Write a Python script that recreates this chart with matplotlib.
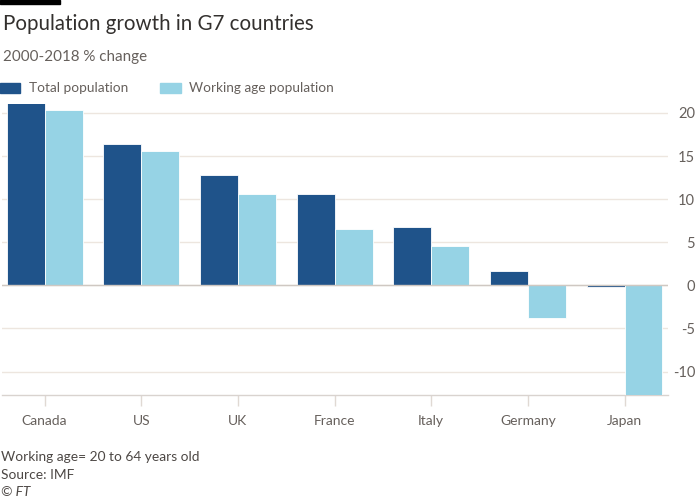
import matplotlib
matplotlib.use("Agg")
import matplotlib.pyplot as plt
from matplotlib.patches import Rectangle
import numpy as np

countries = ["Canada", "US", "UK", "France", "Italy", "Germany", "Japan"]
total_pop = [21.1, 16.4, 12.8, 10.6, 6.8, 1.7, -0.2]
working_pop = [20.3, 15.6, 10.6, 6.5, 4.6, -3.8, -12.7]
y_ticks = [-10, -5, 0, 5, 10, 15, 20]

DARK = "#1f538a"
LIGHT = "#96d3e5"
GRID = "#ede6df"
TXT = "#66605c"
FONT = "Lato"

plt.rcParams["font.family"] = [FONT, "DejaVu Sans"]

fig = plt.figure(figsize=(7, 5), dpi=100)
fig.patch.set_facecolor("white")
ax = fig.add_axes([2/700, 1 - 395.3/500, 666/700, (395.3 - 103.7)/500])

x = np.arange(len(countries))
w = 0.393
ax.bar(x - w/2, total_pop, width=w, color=DARK, edgecolor="white", linewidth=0.6, zorder=3, label="Total population")
ax.bar(x + w/2, working_pop, width=w, color=LIGHT, edgecolor="white", linewidth=0.6, zorder=3, label="Working age population")

ax.set_xlim(-0.44, 6.45)
ax.set_ylim(-12.76, 21.07)
ax.set_yticks(y_ticks)
ax.set_yticklabels([str(v) for v in y_ticks])
ax.yaxis.tick_right()
ax.tick_params(axis="y", length=0, pad=19.5, labelsize=10.5, labelcolor=TXT)
for lab in ax.get_yticklabels():
    lab.set_horizontalalignment("right")
ax.grid(axis="y", color=GRID, linewidth=1, zorder=0)
ax.axhline(0, color="#cfc8c2", linewidth=1, zorder=4)

ax.set_xticks(x)
ax.set_xticklabels(countries)
ax.tick_params(axis="x", length=8, width=1, color="#e0d9d3", pad=6, labelsize=10, labelcolor=TXT)

for s in ["top", "left", "right"]:
    ax.spines[s].set_visible(False)
ax.spines["bottom"].set_color("#d9d3cf")
ax.spines["bottom"].set_linewidth(1)

# top black bar
fig.patches.append(Rectangle((0, 1 - 4/500), 60/700, 4/500, transform=fig.transFigure, color="black"))

fig.text(3/700, 1 - 24/500, "Population growth in G7 countries", fontsize=14.8, color="#33302e", va="center", ha="left")
fig.text(3/700, 1 - 57/500, "2000-2018 % change", fontsize=10.9, color=TXT, va="center", ha="left")

# legend
fig.patches.append(Rectangle((0, 1 - 93/500), 20/700, 10/500, transform=fig.transFigure, color=DARK))
fig.text(29/700, 1 - 88/500, "Total population", fontsize=9.8, color=TXT, va="center", ha="left")
fig.patches.append(Rectangle((160/700, 1 - 93/500), 21/700, 10/500, transform=fig.transFigure, color=LIGHT))
fig.text(189/700, 1 - 88/500, "Working age population", fontsize=9.8, color=TXT, va="center", ha="left")

fig.text(1/700, 1 - 457/500, "Working age= 20 to 64 years old", fontsize=9.9, color="#4d4845", va="center", ha="left")
fig.text(1/700, 1 - 475/500, "Source: IMF", fontsize=9.9, color="#4d4845", va="center", ha="left")
fig.text(1/700, 1 - 492/500, "© FT", fontsize=9.9, color="#4d4845", va="center", ha="left", style="italic")

fig.savefig("out.png", dpi=100)
